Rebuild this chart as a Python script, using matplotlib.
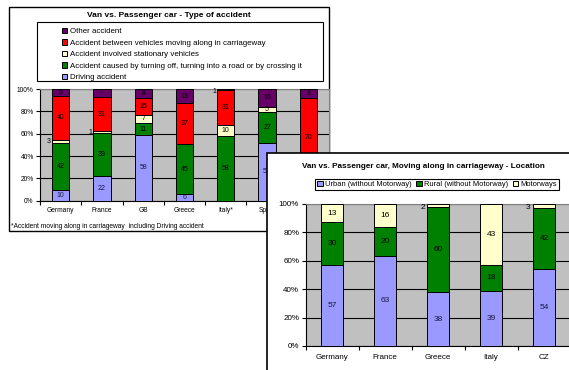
import matplotlib.pyplot as plt
from matplotlib.patches import Rectangle
import numpy as np

plt.rcParams['font.family'] = ['Liberation Sans', 'DejaVu Sans']

# chart 1 - type of accident (last bar is mostly hidden behind chart 2)
countries1 = ['Germany', 'France', 'GB', 'Greece', 'Italy*', 'Spain', 'CZ']
driving = [10, 22, 58, 6, 0, 52, 0]
turning = [42, 39, 11, 45, 58, 27, 22]
stationary = [3, 1, 7, 0, 10, 5, 0]
moving = [40, 31, 15, 37, 31, 0, 70]
other = [6, 7, 8, 13, 1, 16, 8]
names1 = ['Driving accident',
          'Accident caused by turning off, turning into a road or by crossing it',
          'Accident involved stationary vehicles',
          'Accident between vehicles moving along in carriageway',
          'Other accident']

# chart 2 - moving along in carriageway, location
countries2 = ['Germany', 'France', 'Greece', 'Italy', 'CZ']
urban = [57, 63, 38, 39, 54]
rural = [30, 20, 60, 18, 42]
motorways = [13, 16, 2, 43, 3]
names2 = ['Urban (without Motorway)', 'Rural (without Motorway)', 'Motorways']

BLUE = '#9999FF'
GREEN = '#008000'
YELLOW = '#FFFFCC'
RED = '#FF0000'
PURPLE = '#660066'
GRAY = '#C0C0C0'


def stacked(ax, cats, series, colors, width, fs, txtpad):
    data = np.array(series, dtype=float)
    pct = data / data.sum(axis=0)
    x = np.arange(len(cats))
    bottom = np.zeros(len(cats))
    bars = []
    for i in range(len(series)):
        b = ax.bar(x, pct[i], width, bottom=bottom, color=colors[i],
                   edgecolor='black', linewidth=0.7, zorder=3)
        bars.append(b)
        for j in range(len(cats)):
            v = series[i][j]
            if v <= 0:
                continue
            yc = bottom[j] + pct[i][j] / 2
            c = '#1a1a40' if colors[i] == BLUE else 'black'
            if v >= 4:
                ax.text(x[j], yc, str(v), ha='center', va='center', fontsize=fs,
                        color=c, zorder=4)
            else:
                ax.text(x[j] - width / 2 - txtpad, min(yc, 0.975), str(v),
                        ha='right', va='center', fontsize=fs, zorder=4)
        bottom += pct[i]

    ax.set_facecolor(GRAY)
    ax.set_xlim(-0.5, len(cats) - 0.5)
    ax.set_ylim(0, 1)
    ax.set_yticks(np.arange(0, 1.01, 0.2))
    ax.set_yticklabels(['%d%%' % v for v in range(0, 101, 20)])
    ax.yaxis.grid(True, color='black', linewidth=0.8, zorder=1)
    ax.set_axisbelow(True)
    ax.set_xticks(x)
    ax.set_xticklabels(cats)
    ax.set_xticks(np.arange(len(cats) + 1) - 0.5, minor=True)
    ax.tick_params(axis='x', which='major', length=0)
    ax.tick_params(axis='x', which='minor', length=3, width=0.8, direction='out')
    ax.tick_params(axis='y', length=3, width=0.8, direction='out', pad=1.5)
    for s in ['top', 'right']:
        ax.spines[s].set_color('#808080')
        ax.spines[s].set_linewidth(0.8)
    for s in ['left', 'bottom']:
        ax.spines[s].set_linewidth(0.8)
    return bars


W, H = 569, 370
fig = plt.figure(figsize=(W / 100, H / 100), dpi=100)
fig.patch.set_facecolor('white')

# panel 1 frame (pixel coords)
bg1 = fig.add_axes([0, 0, 1, 1], zorder=0)
bg1.set_xlim(0, W)
bg1.set_ylim(H, 0)
bg1.set_axis_off()
bg1.add_patch(Rectangle((9, 7), 320, 224, facecolor='white', edgecolor='black', linewidth=1.0))
bg1.text(169, 15.5, 'Van vs. Passenger car - Type of accident', ha='center', va='center',
         fontsize=6.0, fontweight='bold')
bg1.add_patch(Rectangle((37, 22), 286, 59, facecolor='none', edgecolor='black', linewidth=0.8))
bg1.text(11, 226, '*Accident moving along in carriageway  including Driving accident',
         ha='left', va='center', fontsize=4.8)

ax1 = fig.add_axes([40 / W, (H - 200.7) / H, 289 / W, 111.7 / H], zorder=1)
bars1 = stacked(ax1, countries1, [driving, turning, stationary, moving, other],
                [BLUE, GREEN, YELLOW, RED, PURPLE], 0.42, 5.0, 0.03)
ax1.tick_params(axis='both', labelsize=4.8)
ax1.tick_params(axis='x', which='major', pad=4.5)

bg1.legend(bars1[::-1], names1[::-1], loc='upper left', bbox_to_anchor=(55.5, 21.5),
           bbox_transform=bg1.transData, frameon=False, fontsize=5.7,
           handlelength=0.7, handleheight=0.7, handletextpad=0.3,
           labelspacing=0.5, borderpad=0.3)

# panel 2 frame, drawn over panel 1
bg2 = fig.add_axes([0, 0, 1, 1], zorder=2)
bg2.set_xlim(0, W)
bg2.set_ylim(H, 0)
bg2.set_axis_off()
bg2.add_patch(Rectangle((267, 153), 320, 230, facecolor='white', edgecolor='black', linewidth=1.2))
bg2.text(423, 166, 'Van vs. Passenger car, Moving along in carriageway - Location',
         ha='center', va='center', fontsize=5.9, fontweight='bold')

ax2 = fig.add_axes([305.5 / W, (H - 346) / H, 265 / W, 142 / H], zorder=3)
bars2 = stacked(ax2, countries2, [urban, rural, motorways], [BLUE, GREEN, YELLOW],
                0.4, 6.0, 0.05)
ax2.tick_params(axis='both', labelsize=5.8)
ax2.tick_params(axis='x', which='major', pad=6)

leg2 = bg2.legend(bars2, names2, loc='center', bbox_to_anchor=(437, 184.5),
                  bbox_transform=bg2.transData, ncol=3, fontsize=5.4, frameon=True,
                  fancybox=False, edgecolor='black', framealpha=1,
                  handlelength=0.75, handleheight=0.75, handletextpad=0.3,
                  columnspacing=0.6, borderpad=0.25)
leg2.get_frame().set_linewidth(0.8)

fig.savefig('out.png', dpi=100)
